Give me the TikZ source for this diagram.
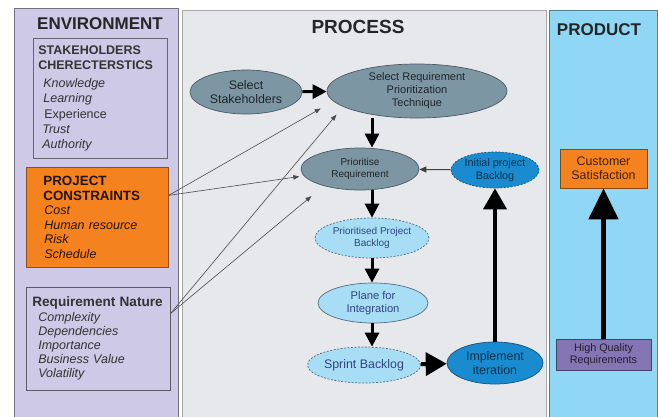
\documentclass[tikz,border=0pt]{standalone}
\usepackage{fontspec}
\setmainfont{Liberation Sans}
\usetikzlibrary{shapes.geometric,arrows.meta}

\definecolor{envfill}{HTML}{CDC9E6}
\definecolor{procfill}{HTML}{E7E8EB}
\definecolor{prodfill}{HTML}{8FD7F4}
\definecolor{slate}{HTML}{7D96A4}
\definecolor{skyfill}{HTML}{A7DEF6}
\definecolor{bluefill}{HTML}{1B8BD0}
\definecolor{orangefill}{HTML}{F4821F}
\definecolor{purplefill}{HTML}{8476B4}

\begin{document}
\begin{tikzpicture}[x=1pt,y={(0pt,-1pt)},
  title/.style={font=\bfseries\fontsize{17}{20}\selectfont, text=black!85},
  listbox/.style={draw=#1, line width=0.7pt, anchor=north west, align=left, inner xsep=5pt,
    font=\fontsize{12.5}{14.6}\selectfont, text=black!80},
  grayell/.style={ellipse, draw=slate!60!black, fill=slate, line width=0.7pt, inner sep=0pt,
    align=center, text=black!75!slate},
  skyell/.style={ellipse, draw=skyfill!50!black, fill=skyfill, line width=0.7pt, inner sep=0pt,
    align=center, text=black!70!blue!70!skyfill},
  blueell/.style={ellipse, draw=bluefill!60!black, fill=bluefill, line width=0.7pt, inner sep=0pt,
    align=center, text=bluefill!35!black},
  dashy/.style={dash pattern=on 2pt off 1.5pt},
  flow/.style={line width=3pt, -{Triangle[length=14pt,width=14pt]}},
  bigflow/.style={line width=4pt, -{Triangle[length=21pt,width=23pt]}},
  link/.style={line width=0.6pt, draw=black!70, -{Triangle[length=6pt,width=4.5pt]}}
]
  \useasboundingbox (0,0) rectangle (658,416);

  % draw the three panels
  \filldraw[fill=envfill, draw=black!45!envfill, line width=0.8pt] (14,8) rectangle (178,418);
  \filldraw[fill=procfill, draw=black!35, line width=0.8pt] (182,10) rectangle (546,418);
  \filldraw[fill=prodfill, draw=prodfill!60!black, line width=0.8pt] (549,10) rectangle (657,418);

  \node[title] (envtitle) at (100,24) {ENVIRONMENT};
  \node[title, font=\bfseries\fontsize{19}{22}\selectfont] (proctitle) at (358,27) {PROCESS};
  \node[title] (prodtitle) at (599,30) {PRODUCT};

  % draw environment boxes
  \node[listbox=black!50!envfill, minimum width=134pt, minimum height=120pt, text width=124pt,
        font=\fontsize{12.5}{15.2}\selectfont] (stake) at (33,38)
    {{\bfseries STAKEHOLDERS\\CHERECTERSTICS}\\[3pt]
     \itshape\hspace*{5pt}Knowledge\\
     \hspace*{5pt}Learning\\
     \upshape\hspace*{6pt}Experience\\
     \itshape\hspace*{4pt}Trust\\
     \hspace*{4pt}Authority};
  \node[listbox=orangefill!60!black, fill=orangefill, text=black!85!orangefill, minimum width=142pt,
        minimum height=100pt, text width=132pt] (cons) at (26,167)
    {\leftskip=12pt{\bfseries\fontsize{13.4}{15}\selectfont PROJECT\\CONSTRAINTS}\\
     \itshape\hspace*{1pt}Cost\\
     \hspace*{1pt}Human resource\\
     \hspace*{1pt}Risk\\
     \hspace*{1pt}Schedule\par};
  \node[listbox=black!55!envfill, minimum width=144pt, minimum height=103pt, text width=132pt,
        inner xsep=6pt, font=\fontsize{12.5}{14.2}\selectfont] (nature) at (26,287)
    {{\bfseries\fontsize{13.6}{15}\selectfont Requirement Nature}\\
     \itshape\hspace*{6pt}Complexity\\
     \hspace*{6pt}Dependencies\\
     \hspace*{6pt}Importance\\
     \hspace*{6pt}Business Value\\
     \hspace*{6pt}Volatility};

  % draw process steps
  \node[grayell, minimum width=112pt, minimum height=44pt, font=\fontsize{12.4}{14}\selectfont] (selstake) at (246,92) {Select\\Stakeholders};
  \node[grayell, minimum width=180pt, minimum height=54pt, font=\fontsize{11}{13}\selectfont] (seltech) at (417,91) {Select Requirement\\Prioritization\\Technique};
  \node[grayell, minimum width=118pt, minimum height=42pt, font=\fontsize{10}{12.5}\selectfont] (prio) at (360,169) {Prioritise\\Requirement};
  \node[blueell, dashy, minimum width=88pt, minimum height=36pt, font=\fontsize{10.8}{13}\selectfont] (initlog) at (495,170) {Initial project\\Backlog};
  \node[skyell, dashy, minimum width=114pt, minimum height=40pt, font=\fontsize{10}{12.5}\selectfont] (priolog) at (372,238) {Prioritised Project\\Backlog};
  \node[skyell, minimum width=110pt, minimum height=40pt, font=\fontsize{11.2}{13}\selectfont] (plan) at (373,303) {Plane for\\Integration};
  \node[skyell, dashy, minimum width=100pt, minimum height=36pt, font=\fontsize{12.4}{14}\selectfont] (sprint) at (364,365) {Sprint Backlog};
  \node[blueell, minimum width=96pt, minimum height=42pt, font=\fontsize{12.4}{14}\selectfont] (implement) at (495,363) {Implement\\iteration};

  % draw product boxes
  \node[draw=orangefill!55!black, fill=orangefill, line width=0.7pt, minimum width=87pt, minimum height=39pt,
        align=center, font=\fontsize{12.4}{14}\selectfont, text=black!75!orangefill] (satisfy) at (603.5,168.5) {Customer\\Satisfaction};
  \node[draw=purplefill!55!black, fill=purplefill, line width=0.7pt, minimum width=95pt, minimum height=31pt,
        align=center, font=\fontsize{10.8}{12.5}\selectfont, text=black!75!purplefill] (quality) at (603.5,354.5) {High Quality\\Requirements};

  % draw main flow
  \coordinate (spine) at (372,0);
  \draw[flow] (selstake) -- (seltech);
  \draw[flow] (seltech.south -| spine) -- (prio.north -| spine);
  \draw[flow] (prio.south -| spine) -- (priolog.north -| spine);
  \draw[flow] (priolog.south -| spine) -- (plan.north -| spine);
  \draw[flow] (plan.south -| spine) -- (sprint.north -| spine);
  \draw[bigflow] (sprint) -- (implement);
  \draw[bigflow] (implement.north) -- (initlog.south);
  \draw[line width=1pt, draw=black!75, -{Triangle[length=7pt,width=6pt]}] (initlog) -- (prio);
  \draw[line width=5pt, -{Triangle[length=31pt,width=29pt]}] (quality.north) -- (satisfy.south);

  % draw influence links
  \draw[link, shorten >=14.5pt] ([yshift=22pt]cons.east) -- (seltech.187.6);
  \draw[link, shorten >=4.6pt] ([yshift=22pt]cons.east) -- (prio.187.6);
  \draw[link, shorten >=10.4pt] ([yshift=25.5pt]nature.east) -- (seltech.192.6);
  \draw[link, shorten >=16pt] ([yshift=25.5pt]nature.east) -- (prio.205.3);
\end{tikzpicture}
\end{document}
